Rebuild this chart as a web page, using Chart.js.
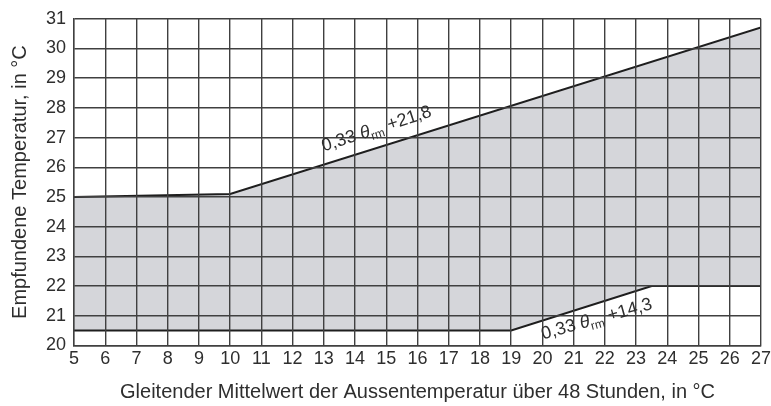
<!DOCTYPE html>
<html>
<head>
<meta charset="utf-8">
<script src="https://cdn.jsdelivr.net/npm/chart.js@4/dist/chart.umd.min.js"></script>
<style>
  html, body { margin: 0; padding: 0; background: #fff; }
  #wrap { width: 771px; height: 406px; position: relative; }
</style>
</head>
<body>
<div id="wrap"><canvas id="c"></canvas></div>
<script>
// Comfort band: upper and lower limits of the perceived temperature
const upperX = [5, 10, 27];
const upperY = [25, 25.1, 30.71];
const lowerX = [5, 19, 23.5, 27];
const lowerY = [20.5, 20.5, 22, 22];

// Axis ranges / ticks
const xTicks = [5, 6, 7, 8, 9, 10, 11, 12, 13, 14, 15, 16, 17, 18, 19, 20, 21, 22, 23, 24, 25, 26, 27];
const yTicks = [20, 21, 22, 23, 24, 25, 26, 27, 28, 29, 30, 31];

// Formula labels along the two sloped limits
const upperLabel = { coef: '0,33 ', sym: 'θ', sub: 'rm', tail: ' +21,8' };
const lowerLabel = { coef: '0,33 ', sym: 'θ', sub: 'rm', tail: ' +14,3' };

const FONT = '"Liberation Sans", Arial, Helvetica, sans-serif';
const TEXT = '#2e2e2e';
const GRID = '#404040';

const toPts = (xs, ys) => xs.map((x, i) => ({ x, y: ys[i] }));

function drawFormula(ctx, px, py, angleDeg, lbl) {
  ctx.save();
  ctx.translate(px, py);
  ctx.rotate(-angleDeg * Math.PI / 180);
  ctx.fillStyle = TEXT;
  ctx.textBaseline = 'alphabetic';
  ctx.textAlign = 'left';
  let cx = 0;
  ctx.font = '18px ' + FONT;
  ctx.fillText(lbl.coef, cx, 0);
  cx += ctx.measureText(lbl.coef).width;
  ctx.font = 'italic 18px ' + FONT;
  ctx.fillText(lbl.sym, cx, 0);
  cx += ctx.measureText(lbl.sym).width;
  ctx.font = '12px ' + FONT;
  ctx.fillText(lbl.sub, cx, 4);
  cx += ctx.measureText(lbl.sub).width;
  ctx.font = '18px ' + FONT;
  ctx.fillText(lbl.tail, cx, 0);
  ctx.restore();
}

const formulaPlugin = {
  id: 'formulas',
  afterDraw(chart) {
    const { ctx, scales: { x, y } } = chart;
    drawFormula(ctx, x.getPixelForValue(13.0), y.getPixelForValue(26.53), 18, upperLabel);
    drawFormula(ctx, x.getPixelForValue(20.02), y.getPixelForValue(20.2), 15.5, lowerLabel);
  }
};

new Chart(document.getElementById('c'), {
  type: 'line',
  data: {
    datasets: [
      {
        label: 'untere Grenze',
        data: toPts(lowerX, lowerY),
        borderColor: '#1e1e1e',
        borderWidth: 2,
        pointRadius: 0,
        fill: false,
        tension: 0
      },
      {
        label: 'obere Grenze',
        data: toPts(upperX, upperY),
        borderColor: '#1e1e1e',
        borderWidth: 2,
        pointRadius: 0,
        fill: 0,
        backgroundColor: '#d5d6da',
        tension: 0
      }
    ]
  },
  options: {
    responsive: true,
    maintainAspectRatio: false,
    animation: false,
    layout: { padding: { top: 11, right: 0, left: 8, bottom: 2 } },
    plugins: {
      legend: { display: false },
      tooltip: { enabled: false }
    },
    scales: {
      x: {
        type: 'linear',
        min: xTicks[0],
        max: xTicks[xTicks.length - 1],
        afterBuildTicks: (s) => { s.ticks = xTicks.map(v => ({ value: v })); },
        afterFit: (s) => { s.paddingRight = 10; },
        ticks: { color: TEXT, font: { family: FONT, size: 18 }, padding: 3, autoSkip: false, maxRotation: 0 },
        grid: { color: GRID, lineWidth: 1.4, drawTicks: false, z: 1 },
        border: { color: GRID, width: 1.4, z: 1 },
        title: {
          display: true,
          text: 'Gleitender Mittelwert der Aussentemperatur über 48 Stunden, in °C',
          color: TEXT,
          font: { family: FONT, size: 20 },
          padding: { top: 7, bottom: 0 }
        }
      },
      y: {
        type: 'linear',
        min: yTicks[0],
        max: yTicks[yTicks.length - 1],
        afterBuildTicks: (s) => { s.ticks = yTicks.map(v => ({ value: v })); },
        ticks: { color: TEXT, font: { family: FONT, size: 18 }, padding: 8, autoSkip: false },
        grid: { color: GRID, lineWidth: 1.4, drawTicks: false, z: 1 },
        border: { color: GRID, width: 1.4, z: 1 },
        title: {
          display: true,
          text: 'Empfundene Temperatur, in °C',
          color: TEXT,
          font: { family: FONT, size: 20 },
          padding: { top: 0, bottom: 6 }
        }
      }
    }
  },
  plugins: [formulaPlugin]
});
</script>
</body>
</html>
